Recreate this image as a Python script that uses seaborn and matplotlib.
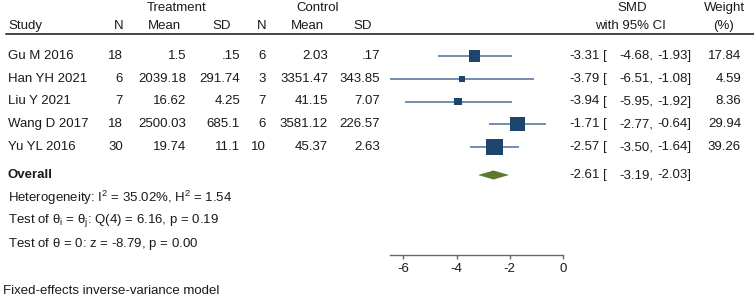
## Forest plot: SMD of treatment vs control, fixed-effects model
import matplotlib
matplotlib.use("Agg")
import matplotlib.pyplot as plt
import pandas as pd
import seaborn as sns

# study table
studies = ["Gu M 2016", "Han YH 2021", "Liu Y 2021", "Wang D 2017", "Yu YL 2016"]
trt_n = ["18", "6", "7", "18", "30"]
trt_mean = ["1.5", "2039.18", "16.62", "2500.03", "19.74"]
trt_sd = [".15", "291.74", "4.25", "685.1", "11.1"]
ctl_n = ["6", "3", "7", "6", "10"]
ctl_mean = ["2.03", "3351.47", "41.15", "3581.12", "45.37"]
ctl_sd = [".17", "343.85", "7.07", "226.57", "2.63"]
smd = [-3.31, -3.79, -3.94, -1.71, -2.57]
ci_low = [-4.68, -6.51, -5.95, -2.77, -3.50]
ci_high = [-1.93, -1.08, -1.92, -0.64, -1.64]
weight = [17.84, 4.59, 8.36, 29.94, 39.26]

# overall estimate
overall = (-2.61, -3.19, -2.03)
stats_lines = [
    r"Heterogeneity: I$^{2}$ = 35.02%, H$^{2}$ = 1.54",
    r"Test of $\mathrm{\theta_{i}}$ = $\mathrm{\theta_{j}}$: Q(4) = 6.16, p = 0.19",
    r"Test of $\mathrm{\theta}$ = 0: z = -8.79, p = 0.00",
]
model_note = "Fixed-effects inverse-variance model"
xticks = [-6, -4, -2, 0]

sns.set_theme(style="white")
plt.rcParams["font.family"] = ["Liberation Sans", "DejaVu Sans"]
plt.rcParams["mathtext.fontset"] = "custom"
plt.rcParams["mathtext.rm"] = "Liberation Sans"
plt.rcParams["mathtext.it"] = "Liberation Sans"

W, H = 754, 299
FS = 9.5
TXT = "#1a1a1a"
SQ = "#1c4670"      # square colour
CI_C = "#4e6f95"    # ci line colour
DIA = "#5b7a2c"     # overall diamond

fig = plt.figure(figsize=(W / 100, H / 100), dpi=100)

def put(x, y, s, ha="left", **kw):
    # place text using pixel coords (from top-left)
    fig.text(x / W, 1 - y / H, s, ha=ha, va="center", fontsize=FS, color=TXT, **kw)

def put_ci(y, est, lo, hi):
    # "-3.31 [  -4.68,  -1.93]" laid out in aligned pieces
    put(600, y, f"{est:.2f}", ha="right")
    put(603, y, "[")
    put(653, y, f"{lo:.2f},", ha="right")
    put(691, y, f"{hi:.2f}]", ha="right")

# header
put(177, 8, "Treatment", ha="center")
put(318, 8, "Control", ha="center")
put(632, 8, "SMD", ha="center")
put(724, 8, "Weight", ha="center")
put(8, 26, "Study")
for x, s in [(123, "N"), (181, "Mean"), (231, "SD"), (266, "N"), (324, "Mean"), (372, "SD")]:
    put(x, 26, s, ha="right")
put(630, 26, "with 95% CI", ha="center")
put(723, 26, "(%)", ha="center")
fig.add_artist(plt.Line2D([6 / W, 1], [1 - 34 / H] * 2, color="#444444", lw=1.4))

# rows of the table
row_y = [56 + 22.75 * i for i in range(len(studies))]
cols = [(123, trt_n), (186, trt_mean), (240, trt_sd), (266, ctl_n), (328, ctl_mean), (380, ctl_sd)]
for i, y in enumerate(row_y):
    put(8, y, studies[i])
    for x, vals in cols:
        put(x, y, vals[i], ha="right")
    put_ci(y, smd[i], ci_low[i], ci_high[i])
    put(741, y, f"{weight[i]:.2f}", ha="right")

ov_y = 175
put(8, ov_y, "Overall", fontweight="bold")
put_ci(ov_y, *overall)
for j, s in enumerate(stats_lines):
    put(8, 198 + 23 * j, s)
put(3, 291, model_note)

# forest panel
ax = fig.add_axes([390 / W, 1 - 255 / H, 173 / W, 255 / H])
df = pd.DataFrame({"smd": smd, "lo": ci_low, "hi": ci_high, "w": weight, "y": row_y})
ax.hlines(df["y"], df["lo"], df["hi"], color=CI_C, lw=1.1, zorder=2)
sns.scatterplot(data=df, x="smd", y="y", size="w", sizes=(3.6 * min(weight), 3.6 * max(weight)),
                marker="s", color=SQ, linewidth=0, legend=False, ax=ax, zorder=3)
ax.fill([overall[1], overall[0], overall[2], overall[0]],
        [ov_y, ov_y - 4.5, ov_y, ov_y + 4.5], color=DIA, lw=0)

ax.set_xlim(-6.5, 0)
ax.set_ylim(255, 0)
ax.set_xticks(xticks)
ax.set_xticklabels([str(t) for t in xticks])
ax.set_yticks([])
ax.set_xlabel("")
ax.set_ylabel("")
for side in ["top", "left", "right"]:
    ax.spines[side].set_visible(False)
ax.spines["bottom"].set_color("#666666")
ax.spines["bottom"].set_linewidth(1.0)
ax.tick_params(axis="x", bottom=True, length=3, width=1, color="#666666",
               labelsize=FS, labelcolor=TXT, pad=3)
ax.patch.set_alpha(0)

fig.savefig("out.png", dpi=100)
